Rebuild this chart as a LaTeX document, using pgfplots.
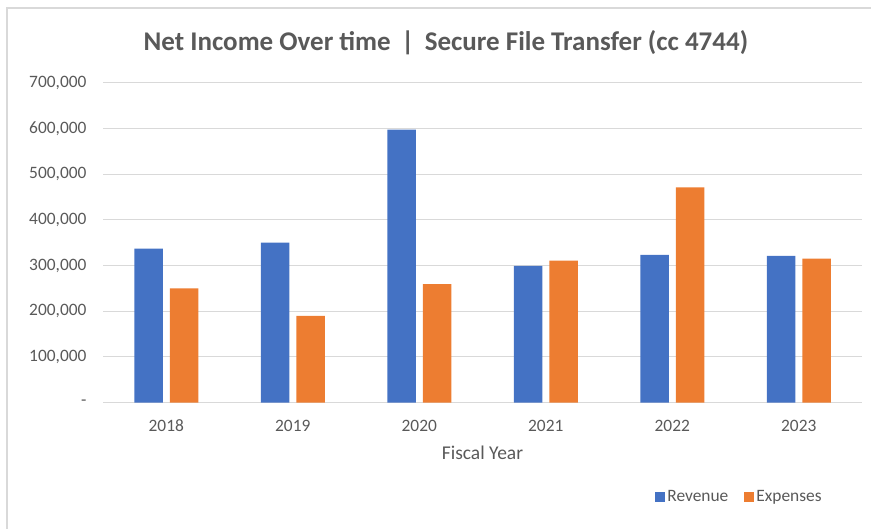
\documentclass[border=0pt]{standalone}
\usepackage{pgfplots}
\pgfplotsset{compat=1.18}
\usepackage{fontspec}
\setmainfont{Carlito}
\definecolor{rev}{HTML}{4472C4}
\definecolor{exp}{HTML}{ED7D31}
\definecolor{txt}{HTML}{595959}
\definecolor{grd}{HTML}{D9D9D9}
\begin{document}
\begin{tikzpicture}
\path[use as bounding box] (0pt,0pt) rectangle (871pt,529pt);
\draw[grd,line width=1.5pt] (7pt,0pt) -- (7pt,521pt) -- (871pt,521pt);
\node[txt,font=\fontsize{27}{32}\selectfont\bfseries,inner sep=0pt] at (446pt,486pt) {Net Income Over time \,|\, Secure File Transfer (cc 4744)};
\begin{axis}[
  at={(103pt,126.3pt)}, anchor=south west,
  scale only axis, width=759pt, height=320pt,
  ybar=7pt, bar width=28.5pt,
  xmin=-0.5, xmax=5.5, ymin=0, ymax=700000,
  axis line style={draw=none},
  major tick length=0pt,
  xtick={0,1,2,3,4,5},
  xticklabels={2018,2019,2020,2021,2022,2023},
  ytick={0,100000,200000,300000,400000,500000,600000,700000},
  yticklabels={{-\hspace{10pt}},{100,000},{200,000},{300,000},{400,000},{500,000},{600,000},{700,000}},
  scaled y ticks=false,
  ymajorgrids, grid style={grd,line width=1pt},
  tick label style={txt,font=\fontsize{17.4}{20}\selectfont},
  yticklabel style={anchor=east,xshift=-13pt},
  xticklabel style={anchor=center,yshift=-23pt},
  xlabel={Fiscal Year},
  xlabel style={txt,font=\fontsize{19.5}{22}\selectfont,at={(axis description cs:0.5,0)},anchor=center,yshift=-50pt},
  legend columns=2,
  legend style={at={(0.8386,-0.2947)},anchor=center,draw=none,fill=none,
    font=\fontsize{17.4}{20}\selectfont\color{txt},
    /tikz/every even column/.append style={column sep=14pt}},
  legend image code/.code={\fill[#1] (0pt,-5pt) rectangle (10pt,5pt);},
  clip=false,
]
\addplot[draw=none,fill=rev] coordinates {(0,337200) (1,350300) (2,597200) (3,299300) (4,323400) (5,321200)};
\addplot[draw=none,fill=exp] coordinates {(0,249800) (1,190100) (2,259300) (3,311000) (4,471200) (5,315400)};
\legend{Revenue,Expenses}
\end{axis}
\end{tikzpicture}
\end{document}
